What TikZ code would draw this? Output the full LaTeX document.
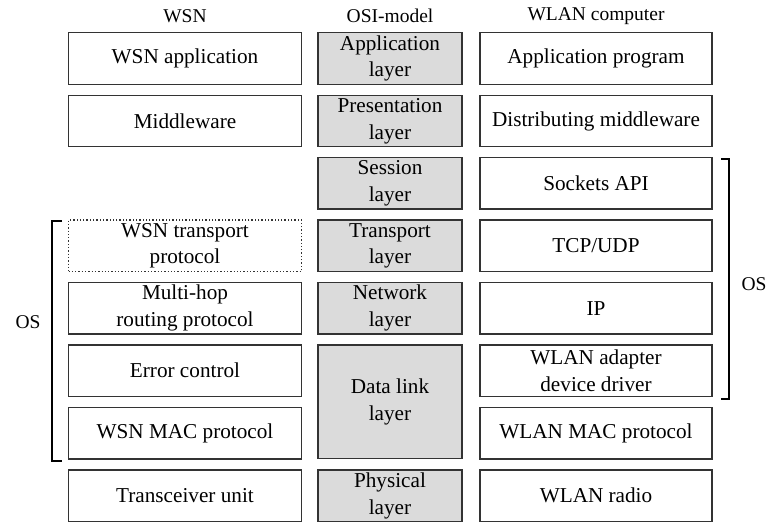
\documentclass[tikz,border=0pt]{standalone}
\usepackage{fontspec}
\setmainfont{Liberation Serif}
\begin{document}
\begin{tikzpicture}[x=1pt,y=-1pt,
  lbox/.style={draw=black!80,line width=1.3pt,minimum width=233pt,minimum height=51.5pt,align=center,inner sep=0pt,font=\fontsize{21.2}{26.7}\selectfont},
  mbox/.style={lbox,fill=black!14,minimum width=144pt},
  rbox/.style={lbox,minimum width=232pt},
  dbox/.style={lbox,draw=black!80,dotted,line width=1.3pt},
  hdr/.style={font=\fontsize{19.5}{25.5}\selectfont,inner sep=0pt},
  brk/.style={line width=2pt,black}]
\useasboundingbox (0,0) rectangle (768,523);
% headers
\node[hdr] (h1) at (185,16) {WSN};
\node[hdr] (h2) at (390,16) {OSI-model};
\node[hdr] (h3) at (596,16) {WLAN computer};
% left column
\node[lbox] (l1) at (185,58.5) {WSN application};
\node[lbox] (l2) at (185,121) {Middleware};
\node[dbox] (l4) at (185,245.8) {WSN transport\\protocol};
\node[lbox] (l5) at (185,308.2) {Multi-hop\\routing protocol};
\node[lbox] (l6) at (185,370.7) {Error control};
\node[lbox] (l7) at (185,433.1) {WSN MAC protocol};
\node[lbox] (l8) at (185,495.6) {Transceiver unit};
% middle column
\node[mbox] (m1) at (390,58.5) {Application\\layer};
\node[mbox] (m2) at (390,121) {Presentation\\layer};
\node[mbox] (m3) at (390,183.3) {Session\\layer};
\node[mbox] (m4) at (390,245.8) {Transport\\layer};
\node[mbox] (m5) at (390,308.2) {Network\\layer};
\node[mbox,minimum height=113.7pt] (m6) at (390,401.9) {Data link\\layer};
\node[mbox] (m8) at (390,495.6) {Physical\\layer};
% right column
\node[rbox] (r1) at (596,58.5) {Application program};
\node[rbox] (r2) at (596,121) {Distributing middleware};
\node[rbox] (r3) at (596,183.3) {Sockets API};
\node[rbox] (r4) at (596,245.8) {TCP/UDP};
\node[rbox] (r5) at (596,308.2) {IP};
\node[rbox] (r6) at (596,370.7) {WLAN adapter\\device driver};
\node[rbox] (r7) at (596,433.1) {WLAN MAC protocol};
\node[rbox] (r8) at (596,495.6) {WLAN radio};
% brackets
\coordinate (lbt) at (62,221);
\coordinate (lbb) at (62,461);
\draw[brk] (lbt) -- (51.7,221) -- (51.7,461) -- (lbb);
\node[hdr] (los) at (28,322) {OS};
\coordinate (rbt) at (721,159);
\coordinate (rbb) at (721,399);
\draw[brk] (rbt) -- (729,159) -- (729,399) -- (rbb);
\node[hdr] (ros) at (754,284) {OS};
\end{tikzpicture}
\end{document}
